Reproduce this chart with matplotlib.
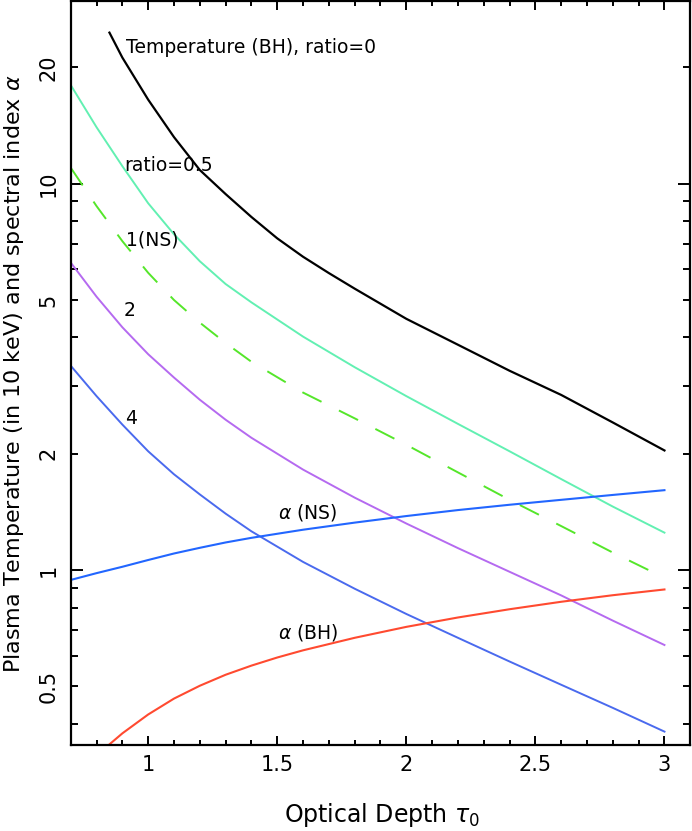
import numpy as np
import matplotlib.pyplot as plt

# optical depth grid
tau_bh = [0.85, 0.9, 1.0, 1.1, 1.2, 1.3, 1.4, 1.5, 1.6, 1.7, 1.8, 2.0, 2.2, 2.4, 2.6, 2.8, 3.0]
temp_bh = [24.6, 21.2, 16.5, 13.2, 10.85, 9.4, 8.2, 7.22, 6.47, 5.87, 5.35, 4.47, 3.83, 3.28, 2.84, 2.41, 2.04]

tau = [0.7, 0.8, 0.9, 1.0, 1.1, 1.2, 1.3, 1.4, 1.6, 1.8, 2.0, 2.2, 2.4, 2.6, 2.8, 3.0]
temp_r05 = [18.0, 14.0, 11.1, 8.9, 7.4, 6.3, 5.5, 4.93, 4.02, 3.35, 2.82, 2.39, 2.03, 1.72, 1.46, 1.25]
temp_r1 = [11.0, 8.75, 7.1, 5.88, 5.0, 4.37, 3.87, 3.46, 2.88, 2.47, 2.11, 1.79, 1.52, 1.3, 1.11, 0.955]
temp_r2 = [6.25, 5.1, 4.25, 3.62, 3.15, 2.76, 2.45, 2.2, 1.82, 1.54, 1.32, 1.14, 0.99, 0.86, 0.74, 0.64]
temp_r4 = [3.38, 2.82, 2.38, 2.03, 1.77, 1.57, 1.40, 1.26, 1.05, 0.895, 0.77, 0.668, 0.58, 0.505, 0.44, 0.382]
alpha_ns = [0.943, 0.982, 1.02, 1.062, 1.104, 1.142, 1.179, 1.212, 1.272, 1.327, 1.38, 1.43, 1.476, 1.52, 1.565, 1.61]

tau_abh = [0.85, 0.9, 1.0, 1.1, 1.2, 1.3, 1.4, 1.5, 1.6, 1.8, 2.0, 2.2, 2.4, 2.6, 2.8, 3.0]
alpha_bh = [0.354, 0.378, 0.423, 0.465, 0.502, 0.536, 0.566, 0.594, 0.62, 0.668, 0.713, 0.754, 0.792, 0.828, 0.861, 0.891]

fig = plt.figure(figsize=(6.92, 8.31), dpi=100)
ax = fig.add_axes([0.1022, 0.1031, 0.8953, 0.8957])

ax.plot(tau_bh, temp_bh, color='black', lw=1.6)
ax.plot(tau, temp_r05, color='#62F0B2', lw=1.4)
ax.plot(tau, temp_r1, color='#55E62A', lw=1.4, dashes=[11, 10])
ax.plot(tau, temp_r2, color='#B56AF0', lw=1.4)
ax.plot(tau, temp_r4, color='#4A6AEE', lw=1.4)
ax.plot(tau, alpha_ns, color='#2266FF', lw=1.5)
ax.plot(tau_abh, alpha_bh, color='#FF4A30', lw=1.5)

ax.set_yscale('log')
ax.set_xlim(0.7, 3.1)
ax.set_ylim(0.352, 29.7)

# ticks
ax.set_xticks([1, 1.5, 2, 2.5, 3], labels=['1', '1.5', '2', '2.5', '3'])
ax.set_xticks(np.arange(0.7, 3.1, 0.1), minor=True)
ax.set_yticks([1, 10], labels=['1', '10'])
yminor = [0.4, 0.5, 0.6, 0.7, 0.8, 0.9, 2, 3, 4, 5, 6, 7, 8, 9, 20]
ylab = {0.5: '0.5', 2: '2', 5: '5', 20: '20'}
ax.set_yticks(yminor, labels=[ylab.get(v, '') for v in yminor], minor=True)

ax.tick_params(which='both', direction='in', top=True, right=True, width=1.4)
ax.tick_params(axis='x', which='major', length=6.5, pad=7, labelsize=15)
ax.tick_params(axis='x', which='minor', length=3.3)
ax.tick_params(axis='y', which='major', length=8.8, pad=9, labelsize=15)
ax.tick_params(axis='y', which='minor', length=5.2, pad=9, labelsize=15)
for lab in ax.get_yticklabels(which='both'):
    lab.set_rotation(90)
    lab.set_va('center')

for s in ax.spines.values():
    s.set_linewidth(1.6)

fig.text(382/692, 1 - 822/831, 'Optical Depth $\\tau_0$', ha='center', va='baseline', fontsize=17)
fig.text(14/692, 1 - 374/831, 'Plasma Temperature (in 10 keV) and spectral index $\\alpha$',
         rotation=90, ha='center', va='center', fontsize=16)

# curve labels
lab_kw = dict(ha='left', va='center', fontsize=13.5)
ax.text(0.9136, 22.47, 'Temperature (BH), ratio=0', **lab_kw)
ax.text(0.906, 11.17, 'ratio=0.5', **lab_kw)
ax.text(0.913, 7.14, '1(NS)', **lab_kw)
ax.text(0.906, 4.69, '2', **lab_kw)
ax.text(0.91, 2.47, '4', **lab_kw)
ax.text(1.504, 1.407, '$\\alpha$ (NS)', **lab_kw)
ax.text(1.504, 0.688, '$\\alpha$ (BH)', **lab_kw)

fig.savefig('out.png', dpi=100)
